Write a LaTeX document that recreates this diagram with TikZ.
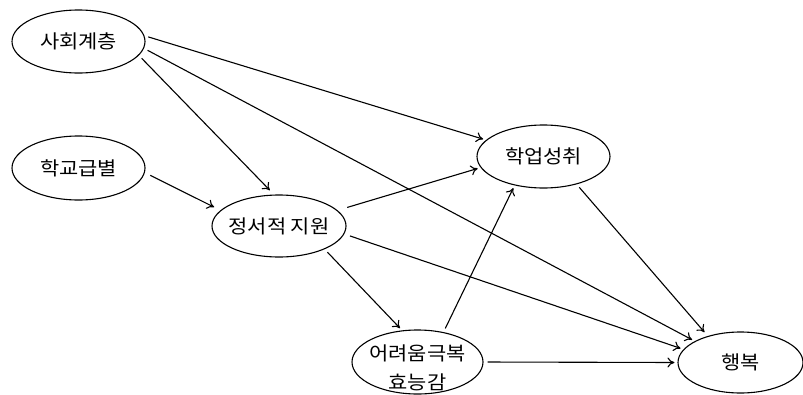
\documentclass[tikz,border=0pt]{standalone}
\usepackage{fontspec}
\newfontfamily\kr[FakeStretch=1.1]{Noto Sans CJK KR}
\newcommand{\zw}[1]{\makebox[0pt]{#1}}
\usetikzlibrary{arrows.meta,shapes.geometric}
\begin{document}
\begin{tikzpicture}[x=1pt,y=-1pt,
  var/.style={draw,ellipse,line width=1.1pt,minimum width=133pt,minimum height=63pt,inner sep=0pt,font=\kr\fontsize{19}{29}\selectfont,align=center},
  lbl/.style={inner sep=0pt,font=\kr\fontsize{19}{29}\selectfont,align=center},
  arr/.style={line width=1.1pt,-{To[length=7pt,width=10pt]},shorten >=3pt,shorten <=4pt}]
\useasboundingbox (0,0) rectangle (803,394);
\node[var] (sc) at (78.5,41.5) {\zw{사회계층}};
\node[var,minimum height=64pt] (hk) at (78.5,168) {\zw{학교급별}};
\node[var,minimum width=134pt,minimum height=62pt] (es) at (279,226) {\zw{정서적 지원}};
\node[var,minimum width=131pt,minimum height=64pt] (ef) at (417.5,362) {};
\node[lbl] (eft) at (417.5,368) {어려움극복\\효능감};
\node[var] (ac) at (543.5,156.5) {\zw{학업성취}};
\node[var,minimum width=125pt,minimum height=61pt] (hp) at (740.5,362.5) {\zw{행복}};
\draw[arr] (sc.5) -- (ac.164);
\draw[arr] (sc.-6) -- (hp.155);
\draw[arr,shorten >=6pt] (sc.-13) -- (es.99);
\draw[arr,shorten >=7pt,shorten <=6pt] (hk.-4) -- (es.165);
\draw[arr,shorten <=10pt] (es.15) -- (ac.190);
\draw[arr,shorten <=6pt] (es.-7) -- (hp.167);
\draw[arr] (es.-27) -- (ef.116);
\draw[arr] (ef.49) -- (ac.225);
\draw[arr] (ef.0) -- (hp.180);
\draw[arr,shorten >=5pt] (ac.-40) -- (hp.141);
\end{tikzpicture}
\end{document}
